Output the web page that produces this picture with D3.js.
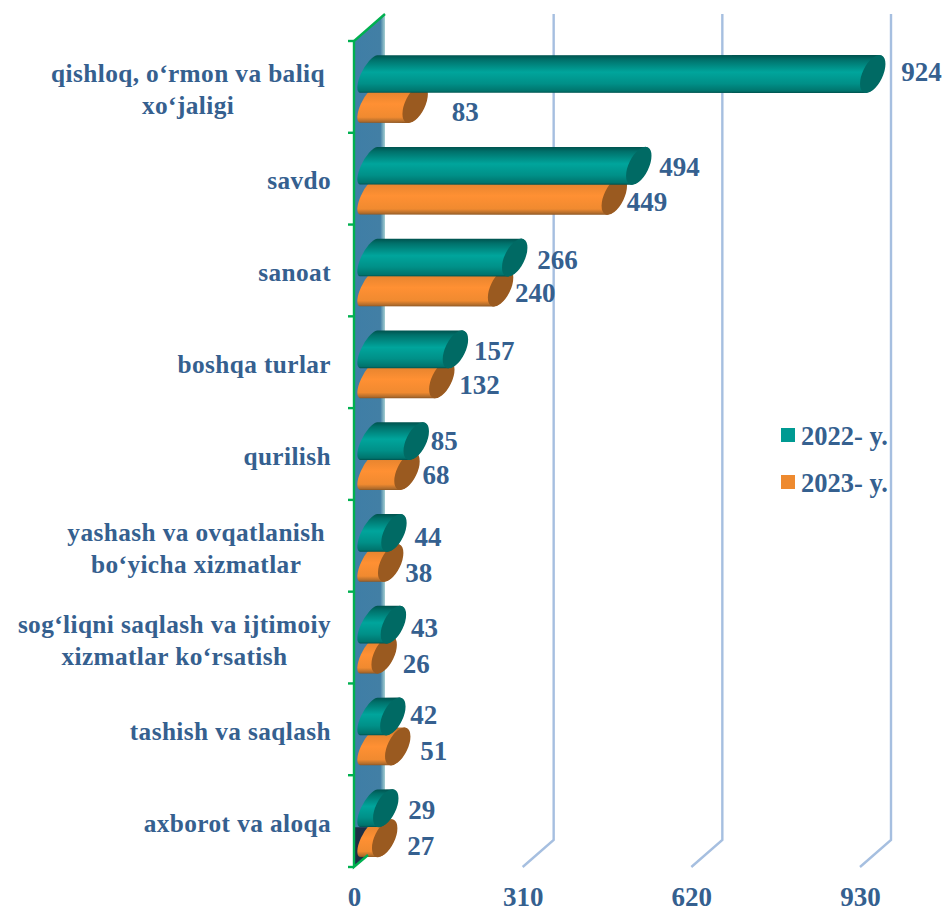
<!DOCTYPE html>
<html><head><meta charset="utf-8">
<script src="https://cdn.jsdelivr.net/npm/d3@7"></script>
<style>html,body{margin:0;padding:0;background:#fff}svg{display:block}text{font-family:"Liberation Serif","Times New Roman",serif;font-weight:700;fill:#35608f}</style>
</head><body><svg id="c" width="944" height="911"></svg>
<script>
const categories=[["qishloq, o‘rmon va baliq","xo‘jaligi"],["savdo"],["sanoat"],["boshqa turlar"],["qurilish"],["yashash va ovqatlanish","bo‘yicha xizmatlar"],["sog‘liqni saqlash va ijtimoiy","xizmatlar ko‘rsatish"],["tashish va saqlash"],["axborot va aloqa"]];
const series2022=[924,494,266,157,85,44,43,42,29];
const series2023=[83,449,240,132,68,38,26,51,27];
const xTicks=[0,310,620,930];
const seriesNames=["2022- y.","2023- y."];

const svg=d3.select("#c");
const x=d3.scaleLinear().domain([0,930]).range([354,860]);
const y=d3.scaleBand().domain(categories.map((d,i)=>i)).range([41,867]);
const dx=31,dy=-27;
const defs=svg.append("defs");
function grad(id,stops,horizontal){
  const g=defs.append("linearGradient").attr("id",id).attr("x1",0).attr("y1",0).attr("x2",horizontal?1:0).attr("y2",horizontal?0:1);
  stops.forEach(s=>g.append("stop").attr("offset",s[0]).attr("stop-color",s[1]));
}
grad("gT",[[0,"#00524e"],[.12,"#00706a"],[.45,"#00a59c"],[.75,"#009088"],[.95,"#00746d"],[1,"#00524e"]]);
grad("gO",[[0,"#b96e2a"],[.2,"#e8852f"],[.5,"#ff9033"],[.85,"#f08a30"],[.96,"#b06c2c"],[1,"#8e5520"]]);
grad("gW",[[0,"#3f7ea6"],[.85,"#427fa5"],[1,"#a5d0d2"]],true);

// wall
const y0=y.range()[0],y1=y.range()[1];
svg.append("path").attr("d",`M${x(0)},${y0}L${x(0)+dx},${y0+dy}L${x(0)+dx},${y1+dy}L${x(0)},${y1}Z`).attr("fill","url(#gW)");
// shadow in the wall's lower corner
const band=y.bandwidth();
svg.append("path").attr("d",`M${x(0)},${y(8)+52}L${x(0)+14},${y(8)+52}L${x(0)+14},${y1-12}L${x(0)},${y1}Z`).attr("fill","#1c3047");

// gridlines
svg.append("g").selectAll("path").data(xTicks.slice(1)).join("path")
  .attr("d",d=>`M${x(d)},${y1}L${x(d)+dx},${y1+dy}L${x(d)+dx},${y0+dy}`)
  .attr("fill","none").attr("stroke","#a6bfe0").attr("stroke-width",2.4);

// value axis
const xAxis=svg.append("g").attr("transform",`translate(0,${y1})`).call(d3.axisBottom(x).tickValues(xTicks).tickFormat(d3.format("d")).tickSize(0).tickPadding(20));
xAxis.select(".domain").remove();
xAxis.selectAll("text").attr("font-size",27).style("font-family",'"Liberation Serif"').style("font-weight",700).attr("fill","#35608f");

// bars
const rx=20.5,ry=10,rot=-64,hw=6.7,hh=18.9,offB=16,barH=37;
const rxL=21,ryL=7.5,rotL=-62,hwL=8.6,hhL=18.8,offA=14.5;
function barPath(v,cy){
  const a=x(0)+offA,b=x(v)+offB;
  return `M${a-hwL},${cy+hhL}A${rxL},${ryL} ${rotL} 0 1 ${a+hwL},${cy-hhL}L${b+hw},${cy-hh}A${rx},${ry} ${rot} 0 1 ${b-hw},${cy+hh}Z`;
}
function drawSeries(vals,top,fill,cap){
  const g=svg.append("g");
  g.selectAll("path").data(vals).join("path").attr("d",(d,i)=>barPath(d,y(i)+top+barH/2)).attr("fill",`url(#${fill})`);
  g.selectAll("ellipse").data(vals).join("ellipse")
    .attr("rx",rx).attr("ry",ry).attr("fill",cap)
    .attr("transform",(d,i)=>`translate(${x(d)+offB},${y(i)+top+barH/2}) rotate(${rot})`);
}
drawSeries(series2023,44.5,"gO","#9a5a20");
drawSeries(series2022,14.5,"gT","#006a64");

// category axis
const ticks=d3.range(categories.length+1).map(i=>y0+i*band);
svg.append("g").selectAll("line").data(ticks).join("line")
  .attr("x1",x(0)-6).attr("x2",x(0)).attr("y1",d=>d).attr("y2",d=>d).attr("stroke","#00b050").attr("stroke-width",2.4);
svg.append("path").attr("d",`M${x(0)+dx},${y0+dy}L${x(0)},${y0}L${x(0)},${y1}L${x(0)+14},${y1-12}`).attr("fill","none").attr("stroke","#00b050").attr("stroke-width",2.4);

// category labels
const right=331,lineH=32;
categories.forEach((lines,i)=>{
  const g=svg.append("g");
  const ts=lines.map((t,j)=>g.append("text").text(t).attr("font-size",25.3).style("letter-spacing","0.4px")
     .attr("y",y(i)+band/2+10.5+(j-(lines.length-1)/2)*lineH+(lines.length>1?0.5:0)).attr("text-anchor","middle"));
  const w=d3.max(ts,t=>t.node().getComputedTextLength());
  ts.forEach(t=>t.attr("x",(i==0||i==5?325:right)-w/2));
});

// value labels
const capRight=offB+12.5;
const nudge22=[16,8,10,6,2,8,5,5,10], nudge23=[24,0,2,5,3,2,6,10,10];
const lift22=[-2,1,2,2,0,4,3,-1,2], lift23=[2,1,0,0,-2,5,4,-1,2];
svg.append("g").selectAll("text").data(series2022).join("text").text(d=>d).attr("font-size",27)
  .attr("x",(d,i)=>x(d)+capRight+nudge22[i]).attr("y",(d,i)=>y(i)+14+barH/2+9.5+lift22[i]);
svg.append("g").selectAll("text").data(series2023).join("text").text(d=>d).attr("font-size",27)
  .attr("x",(d,i)=>x(d)+capRight+nudge23[i]).attr("y",(d,i)=>y(i)+44+barH/2+15+lift23[i]);

// legend
const color=d3.scaleOrdinal().domain(seriesNames).range(["#009a92","#ee8a2f"]);
const lg=svg.append("g").selectAll("g").data(seriesNames).join("g").attr("transform",(d,i)=>`translate(781,${428+i*47})`);
lg.append("rect").attr("width",14).attr("height",14).attr("fill",d=>color(d));
lg.append("text").text(d=>d).attr("x",20).attr("y",17).attr("font-size",26.5);
</script></body></html>
